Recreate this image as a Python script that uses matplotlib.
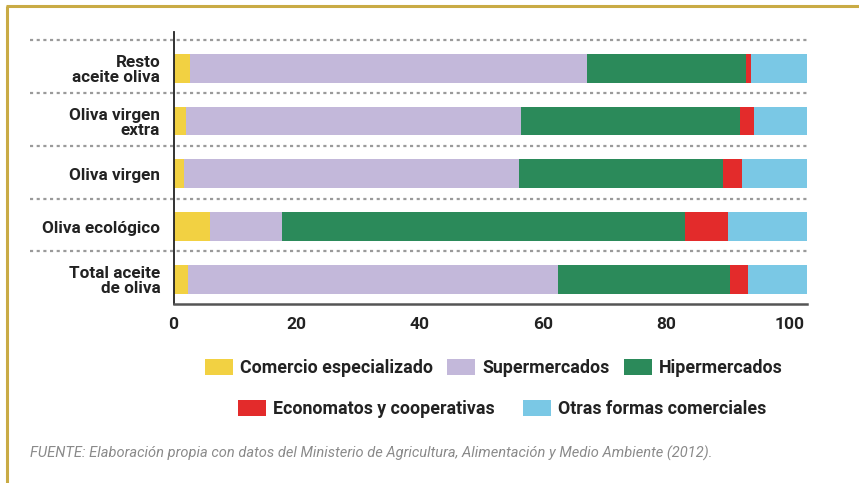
import matplotlib
matplotlib.use("Agg")
import matplotlib.pyplot as plt
from matplotlib.patches import Patch
from matplotlib.lines import Line2D
import numpy as np

FONT = ['Roboto', 'DejaVu Sans']
plt.rcParams['font.family'] = FONT

categories = ["Resto\naceite oliva", "Oliva virgen\nextra", "Oliva virgen",
              "Oliva ecológico", "Total aceite\nde oliva"]
series_names = ["Comercio especializado", "Supermercados", "Hipermercados",
                "Economatos y cooperativas", "Otras formas comerciales"]
comercio = [2.7, 2.0, 1.65, 5.9, 2.3]
supermercados = [64.5, 54.4, 54.45, 11.7, 60.1]
hipermercados = [25.7, 35.5, 33.1, 65.5, 27.9]
economatos = [0.8, 2.3, 3.1, 6.9, 2.9]
otras = [9.1, 8.6, 10.5, 12.8, 9.6]
xticks = [0, 20, 40, 60, 80, 100]

colors = ["#F2D142", "#C3B8DA", "#2B8A5A", "#E32B2B", "#7AC8E5"]
series = [comercio, supermercados, hipermercados, economatos, otras]

W, H = 859, 483
fig = plt.figure(figsize=(W / 100, H / 100), dpi=100)
fig.patch.set_facecolor("white")

# gold frame (left and top)
gold = "#C9AB45"
fig.add_artist(Line2D([7 / W, 7 / W], [0, 1 - 6 / H], color=gold, lw=2.2,
                      transform=fig.transFigure, solid_capstyle="butt"))
fig.add_artist(Line2D([6 / W, 1], [1 - 6 / H, 1 - 6 / H], color=gold, lw=2.2,
                      transform=fig.transFigure, solid_capstyle="butt"))

ax_left, ax_right = 173.5 / W, 806.7 / W
ax_top, ax_bot = 1 - 32.3 / H, 1 - 304.3 / H
ax = fig.add_axes([ax_left, ax_bot, ax_right - ax_left, ax_top - ax_bot])

y = np.arange(len(categories))
left = np.zeros(len(categories))
handles = []
for name, vals, c in zip(series_names, series, colors):
    ax.barh(y, vals, left=left, height=0.545, color=c, edgecolor="none")
    left += np.array(vals)
    handles.append(Patch(facecolor=c, edgecolor="none", label=name))

ax.set_xlim(0, 102.8)
ax.set_ylim(4.47, -0.68)
ax.set_xticks(xticks)
ax.set_xticklabels([str(t) for t in xticks], fontsize=12.5, fontweight="bold",
                   color="#222222")
ax.tick_params(axis="x", length=0, pad=9)
ax.set_yticks(y)
ax.set_yticklabels(categories, fontsize=12.3, fontweight="bold",
                   color="#222222", linespacing=1.0)
ax.tick_params(axis="y", length=0, pad=9.5)

for s in ["top", "right"]:
    ax.spines[s].set_visible(False)
ax.spines["left"].set_color("#222222")
ax.spines["left"].set_linewidth(1.3)
ax.spines["bottom"].set_color("#555555")
ax.spines["bottom"].set_linewidth(1.8)

# dotted separators
xmin_ax = (30 - 173.5) / (806.7 - 173.5)
for k in range(len(categories)):
    yy = k - 0.53
    ax.add_line(Line2D([xmin_ax, 1.0], [yy, yy], color="#9a9a9a", lw=1.6,
                       linestyle=(0, (1.4, 1.6)), clip_on=False,
                       transform=ax.get_yaxis_transform()))

leg_kw = dict(frameon=False, handlelength=1.57, handleheight=0.95,
              handletextpad=0.4, borderaxespad=0,
              prop={"family": FONT, "weight": "bold", "size": 12.8},
              labelcolor="#222222")
leg1 = fig.legend(handles=handles[:3], loc="center", ncol=3,
                  bbox_to_anchor=(494 / W, 1 - 368 / H), columnspacing=0.8,
                  **leg_kw)
leg2 = fig.legend(handles=handles[3:], loc="center", ncol=2,
                  bbox_to_anchor=(502 / W, 1 - 409 / H), columnspacing=1.57,
                  **leg_kw)

fig.text(30 / W, 1 - 453 / H,
         "FUENTE: Elaboración propia con datos del Ministerio de Agricultura, "
         "Alimentación y Medio Ambiente (2012).",
         fontsize=10.5, style="italic", color="#8a8a8a", va="center", ha="left")

fig.savefig("out.png", dpi=100, facecolor="white")
